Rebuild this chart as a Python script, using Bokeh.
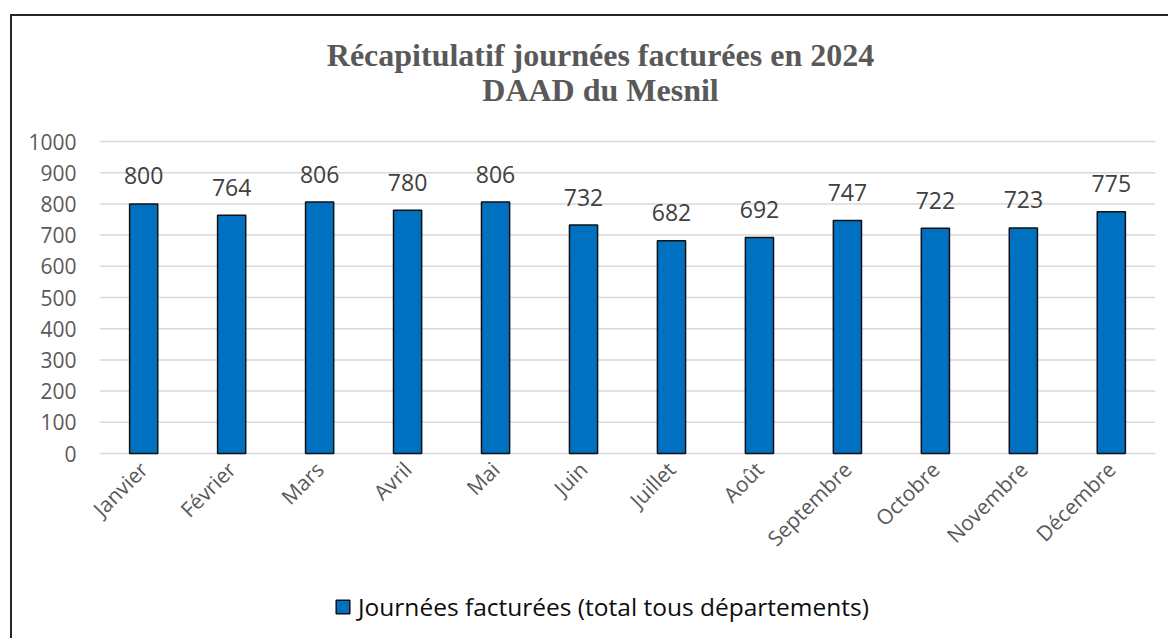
from bokeh.plotting import figure
from bokeh.models import ColumnDataSource, Legend, LegendItem, FixedTicker, Range1d, FactorRange, Label
from bokeh.embed import file_html
from bokeh.resources import INLINE
from bokeh.core.properties import value
import math

months = ["Janvier", "Février", "Mars", "Avril", "Mai", "Juin", "Juillet",
          "Août", "Septembre", "Octobre", "Novembre", "Décembre"]
days_billed = [800, 764, 806, 780, 806, 732, 682, 692, 747, 722, 723, 775]
y_ticks = [0, 100, 200, 300, 400, 500, 600, 700, 800, 900, 1000]
title_lines = ["Récapitulatif journées facturées en 2024", "DAAD du Mesnil"]
series_name = "Journées facturées (total tous départements)"

FONT = "Open Sans"

# layout (pixels): canvas starts at (12, 16) after the chart-area border
CANVAS_W, CANVAS_H = 1158, 624
PLOT_TOP_PX, PLOT_ZERO_PX = 125, 437      # where 1000 and 0 sit in the canvas
y_max = y_ticks[-1]
px_per_unit = (PLOT_ZERO_PX - PLOT_TOP_PX) / y_max
y_start = -(CANVAS_H - PLOT_ZERO_PX) / px_per_unit
y_end = y_max + PLOT_TOP_PX / px_per_unit

src = ColumnDataSource(dict(month=months, val=days_billed,
                            lab=[str(v) for v in days_billed]))
grid_src = ColumnDataSource(dict(
    y=y_ticks,
    x0=[(months[0], -0.5)] * len(y_ticks),
    x1=[(months[-1], 0.5)] * len(y_ticks)))

p = figure(x_range=FactorRange(*months, range_padding=0.15,
                               range_padding_units="absolute"),
           y_range=Range1d(y_start, y_end),
           width=CANVAS_W, height=CANVAS_H, output_backend="svg",
           toolbar_location=None,
           min_border_left=74, min_border_top=0, min_border_right=2,
           min_border_bottom=0, outline_line_color=None,
           styles={"margin-left": "10px", "margin-top": "14px",
                   "border-left": "2px solid #262626",
                   "border-top": "2px solid #262626"})

p.segment(x0="x0", y0="y", x1="x1", y1="y", source=grid_src,
          line_color="#d9d9d9", line_width=1.5)

bars = p.vbar(x="month", top="val", width=0.32, source=src,
              fill_color="#0070C0", line_color="#111111", line_width=1.5)

p.text(x="month", y="val", text="lab", source=src, y_offset=-28,
       text_align="center", text_baseline="alphabetic",
       text_font=value(FONT), text_font_size="23px", text_color="#404040")

p.xgrid.grid_line_color = None
p.ygrid.grid_line_color = None

p.yaxis.ticker = FixedTicker(ticks=y_ticks)
p.xaxis.fixed_location = 0
for ax in (p.xaxis[0], p.yaxis[0]):
    ax.axis_line_color = None
    ax.major_tick_line_color = None
    ax.minor_tick_line_color = None
    ax.major_tick_in = 0
    ax.major_tick_out = 0
    ax.major_label_text_font = FONT
    ax.major_label_text_font_size = "21px"
    ax.major_label_text_color = "#595959"
p.yaxis.major_label_standoff = 10
p.xaxis.major_label_standoff = 12
p.xaxis.major_label_orientation = math.pi / 4

for line, ys in zip(title_lines, (586, 551)):
    p.add_layout(Label(x=514, y=ys, x_units="screen", y_units="screen",
                       text=line, text_align="center",
                       text_baseline="alphabetic", text_font="Liberation Serif",
                       text_font_style="bold", text_font_size="32px",
                       text_color="#595959"))

legend = Legend(items=[LegendItem(label=series_name, renderers=[bars])],
                location=(248, 17), orientation="horizontal", padding=0,
                margin=0, border_line_color=None, background_fill_alpha=0,
                glyph_width=17, glyph_height=17, label_standoff=7,
                label_text_font=FONT, label_text_font_size="24.5px",
                label_text_color="#0d0d0d")
p.add_layout(legend)

open("out.html", "w").write(file_html(p, INLINE))
